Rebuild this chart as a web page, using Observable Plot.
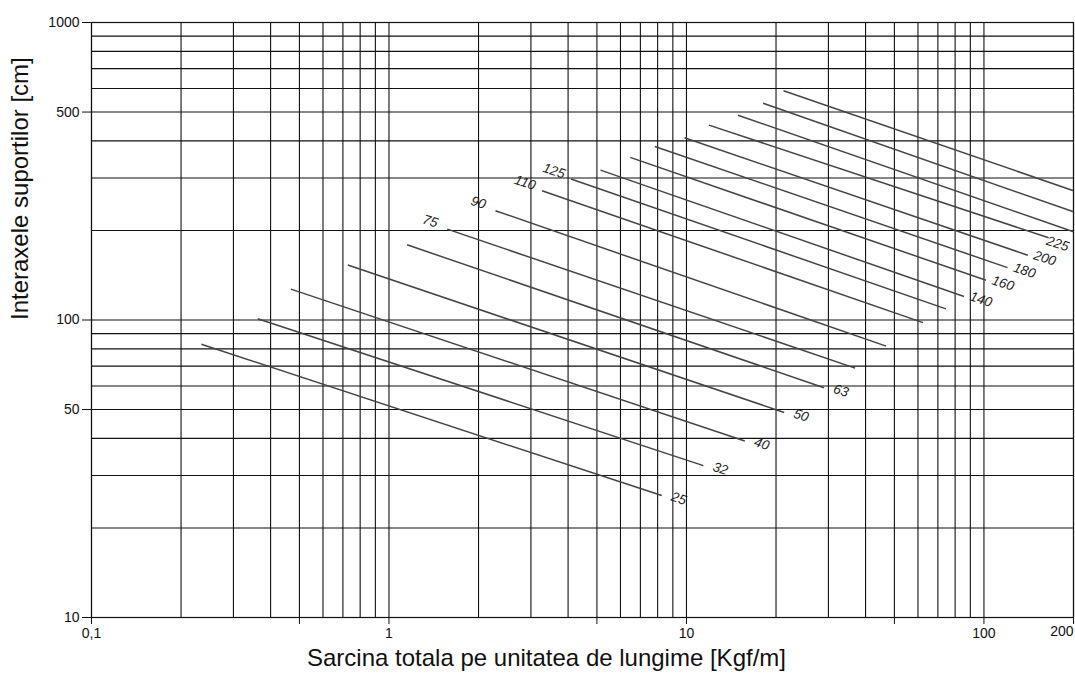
<!DOCTYPE html>
<html><head><meta charset="utf-8">
<script src="https://cdn.jsdelivr.net/npm/d3@7"></script>
<script src="https://cdn.jsdelivr.net/npm/@observablehq/plot@0.6"></script>
<style>html,body{margin:0;padding:0;background:#fff;} svg{display:block}</style>
</head><body><div id="chart"></div>
<script>
// Grid values (log-log paper)
const xGrid = [0.1,0.2,0.3,0.4,0.5,0.6,0.7,0.8,0.9,1,2,3,4,5,6,7,8,9,10,20,30,40,50,60,70,80,90,100,200];
const yGrid = [10,20,30,40,50,60,70,80,90,100,200,300,400,500,600,700,800,900,1000];
// Tick labels
const xTicks = [0.1,0.5,1,5,10,50,100,200];
const yTicks = [10,50,100,500,1000];
// Pipe lines (diameter labels; last three lines unlabeled in the source)
const pipeLabels = ["25","32","40","50","63","75","90","110","125","140","160","180","200","225","","",""];
const loadStart = [0.234,0.362,0.468,0.727,1.15,1.57,2.28,3.27,4.09,5.14,6.47,7.83,9.85,11.9,14.9,18.1,21.2];
const spanStart = [82.9,101,127,153,179,202,233,272,298,319,352,383,410,452,488,535,590];
const loadEnd   = [8.26,11.4,15.7,21.3,29.0,36.9,46.9,62.4,74.5,85.7,101.6,120,140.5,165,200,200,200];
const spanEnd   = [25.7,32.4,39.2,48.9,59.2,68.9,81.7,98.0,109,120,136,150,165,189,198,231,272];
const leftLabeled = ["75","90","110","125"];
const edgeLabeled = ["225"];

const xTitle = "Sarcina totala pe unitatea de lungime [Kgf/m]";
const yTitle = "Interaxele suportilor [cm]";

const segs = pipeLabels.map((label, i) => ({
  label, x1: loadStart[i], y1: spanStart[i], x2: loadEnd[i], y2: spanEnd[i]
}));
const rightLab = segs.filter(d => d.label && !leftLabeled.includes(d.label) && !edgeLabeled.includes(d.label));
const edgeLab = segs.filter(d => edgeLabeled.includes(d.label));
const leftLab = segs.filter(d => leftLabeled.includes(d.label));
const lastTick = xTicks[xTicks.length - 1];
const fmtX = d => String(d).replace(".", ",");

const labelStyle = {text: "label", rotate: 18, fontStyle: "italic", fontSize: 13.5, fill: "#222"};

const chart = Plot.plot({
  width: 1075,
  height: 679,
  marginLeft: 91,
  marginRight: 2,
  marginTop: 22,
  marginBottom: 62,
  style: {fontFamily: "'Liberation Sans', Arial, sans-serif", fontSize: "14px", background: "#fff", color: "#111"},
  x: {type: "log", domain: [0.1, 200]},
  y: {type: "log", domain: [10, 1000]},
  marks: [
    Plot.ruleX(xGrid, {stroke: "#111", strokeWidth: 1.1}),
    Plot.ruleY(yGrid, {stroke: "#111", strokeWidth: 1.1}),
    Plot.frame({stroke: "#111", strokeWidth: 1.2}),
    Plot.link(segs, {x1: "x1", y1: "y1", x2: "x2", y2: "y2", stroke: "#444", strokeWidth: 1.5}),
    Plot.text(rightLab, {...labelStyle, x: "x2", y: "y2", dx: 17, dy: 3}),
    Plot.text(edgeLab, {...labelStyle, x: "x2", y: "y2", dx: 9, dy: 6}),
    Plot.text(leftLab, {...labelStyle, x: "x1", y: "y1", dx: -17, dy: -8}),
    Plot.axisX(xTicks, {tickFormat: d => d === lastTick ? "" : fmtX(d), tickSize: 7, tickPadding: 4,
      label: null, fontSize: 14, stroke: "#111"}),
    Plot.text([lastTick], {x: d => d, text: d => fmtX(d), frameAnchor: "bottom", textAnchor: "end",
      lineAnchor: "top", dy: 9, fontSize: 14, fill: "#111"}),
    Plot.axisY(yTicks, {tickFormat: d => String(d), tickSize: 9, tickPadding: 3,
      label: null, fontSize: 14, stroke: "#111"}),
    Plot.text([yTitle], {text: d => d, frameAnchor: "left", dx: -71, rotate: -90, fontSize: 24, fill: "#111"}),
    Plot.text([xTitle], {text: d => d, frameAnchor: "bottom", dx: -36, dy: 48, fontSize: 24, fill: "#111"})
  ]
});
document.getElementById("chart").appendChild(chart);
</script>
</body></html>
